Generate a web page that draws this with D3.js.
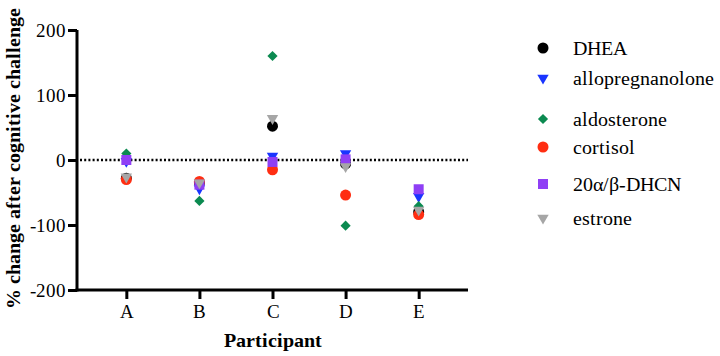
<!DOCTYPE html>
<html>
<head>
<meta charset="utf-8">
<script src="https://cdn.jsdelivr.net/npm/d3@7"></script>
<style>
  @font-face { font-family: "SerifLocal"; font-weight: normal; src: local("Liberation Serif"), local("LiberationSerif"), local("Tinos"), local("FreeSerif"); }
  @font-face { font-family: "SerifLocal"; font-weight: bold; src: local("Liberation Serif Bold"), local("LiberationSerif-Bold"), local("Tinos Bold"); }
  body { margin: 0; background: #fff; }
</style>
</head>
<body>
<svg width="720" height="356"></svg>
<script>
const participants = ["A", "B", "C", "D", "E"]
const seriesNames = ["DHEA", "allopregnanolone", "aldosterone", "cortisol", "20\u03b1/\u03b2-DHCN", "estrone"]
const seriesColors = ["#000000", "#1a35ff", "#0b8a50", "#ff2e12", "#8f3ff5", "#a6a6a6"]
const seriesShapes = ["circle", "triangle", "diamond", "circle", "square", "triangle"]

const dhea = [-28, -35, 52, -6, -80]
const allopregnanolone = [-2, -44, 6, 10, -56]
const aldosterone = [10, -63, 160, -101, -71]
const cortisol = [-30, -33, -15, -54, -84]
const dhcn = [0, -38, -3, 1, -45]
const estrone = [-26, -35, 64, -10, -77]

const seriesValues = [dhea, allopregnanolone, aldosterone, cortisol, dhcn, estrone]
const yTicks = [-200, -100, 0, 100, 200]

const serifFont = '"SerifLocal", "Liberation Serif", "Tinos", "FreeSerif"'

function symbolPath(shape){
    if (shape === "circle") return d3.symbol().type(d3.symbolCircle).size(95)()
    if (shape === "square") return d3.symbol().type(d3.symbolSquare).size(100)()
    if (shape === "diamond") return d3.symbol().type(d3.symbolSquare).size(52)()
    return d3.symbol().type(d3.symbolTriangle).size(56)()
}

function symbolRotate(shape){
    if (shape === "diamond") return 45
    if (shape === "triangle") return 180
    return 0
}

const svg = d3.select("svg")

const xScale = d3.scalePoint().domain(participants).range([77, 468]).padding(0.675)
const yScale = d3.scaleLinear().domain([-200, 200]).range([290, 30])

// zero reference line
svg.append("line")
    .attr("x1", 80)
    .attr("x2", 468)
    .attr("y1", yScale(0))
    .attr("y2", yScale(0))
    .attr("stroke", "black")
    .attr("stroke-width", 2.5)
    .attr("stroke-dasharray", "2,2.2")

// points
seriesValues.forEach((values, i) => {
    svg.append("g")
        .selectAll("path")
        .data(values)
        .enter()
        .append("path")
        .attr("d", symbolPath(seriesShapes[i]))
        .attr("transform", (d, j) => `translate(${xScale(participants[j])},${yScale(d)}) rotate(${symbolRotate(seriesShapes[i])})`)
        .attr("fill", seriesColors[i])
})

// axes
const yAxis = d3.axisLeft(yScale).tickValues(yTicks).tickSize(9).tickPadding(2).tickFormat(d => d < 0 ? "-" + Math.abs(d) : d)
const xAxis = d3.axisBottom(xScale).tickSize(9).tickPadding(6)

svg.append("g")
    .attr("id", "yAxisG")
    .attr("transform", "translate(77, 0)")
    .call(yAxis)

svg.append("g")
    .attr("id", "xAxisG")
    .attr("transform", `translate(0, ${yScale(-200)})`)
    .call(xAxis)

svg.selectAll("#xAxisG, #yAxisG").attr("font-family", serifFont).attr("font-size", 19)

svg.select("#xAxisG path.domain").attr("d", "M75.5,0H468")
svg.select("#yAxisG path.domain").attr("d", `M0,${yScale(200)}V${yScale(-200) + 1.5}`)

svg.selectAll("path.domain")
    .attr("stroke", "black")
    .attr("stroke-width", 3)

svg.selectAll(".tick line")
    .attr("stroke", "black")
    .attr("stroke-width", 3)

svg.selectAll(".tick text")
    .attr("fill", "black")
    .style("font-family", serifFont)
    .style("font-size", "19px")

// axis titles
svg.append("text")
    .attr("x", 273)
    .attr("y", 347)
    .attr("text-anchor", "middle")
    .style("font-family", serifFont)
    .style("font-size", "20px")
    .style("font-weight", "bold")
    .text("Participant")

svg.append("text")
    .attr("transform", "translate(20, 158) rotate(-90)")
    .attr("text-anchor", "middle")
    .style("font-family", serifFont)
    .style("font-size", "20px")
    .style("font-weight", "bold")
    .text("% change after cognitive challenge")

// legend
const legendY = [48, 78, 119, 147, 184, 218]

svg.append("g")
    .selectAll("path")
    .data(seriesNames)
    .enter()
    .append("path")
    .attr("d", (d, i) => symbolPath(seriesShapes[i]))
    .attr("transform", (d, i) => `translate(543, ${legendY[i]}) rotate(${symbolRotate(seriesShapes[i])})`)
    .attr("fill", (d, i) => seriesColors[i])

svg.selectAll("text.legend")
    .data(seriesNames)
    .enter()
    .append("text")
    .attr("class", "legend")
    .attr("x", 573)
    .attr("y", (d, i) => legendY[i] + 7)
    .style("font-family", serifFont)
    .style("font-size", "20px")
    .text(d => d)
</script>
</body>
</html>
